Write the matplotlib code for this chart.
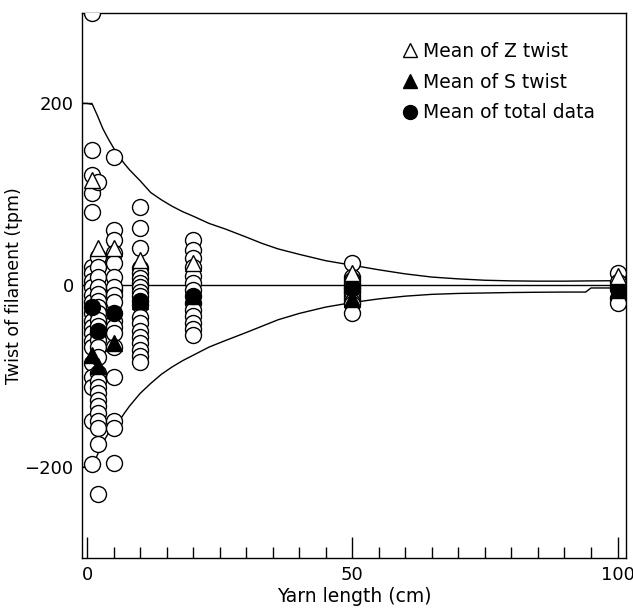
import matplotlib
matplotlib.use("Agg")
import matplotlib.pyplot as plt
from matplotlib.lines import Line2D
import numpy as np

plt.rcParams['font.family'] = ['DejaVu Sans']

# ---- data ----
lengths = [1, 2, 5, 10, 20, 50, 100]

twist_1 = [300, 149, 121, 101, 81, 20, 13, 5, -2, -11, -18, -31, -39, -46, -53,
           -61, -68, -86, -101, -112, -149, -197]
twist_2 = [114, 31, 20, 9, -2, -10, -17, -24, -31, -38, -45, -52, -60, -68, -79,
           -96, -105, -112, -119, -126, -133, -140, -149, -157, -175, -230]
twist_5 = [141, 61, 50, 35, 24, 9, -5, -2, -11, -18, -39, -46, -53, -68, -101,
           -149, -157, -195]
twist_10 = [86, 63, 41, 19, 13, 8, 3, -2, -7, -12, -22, -35, -42, -50, -57,
            -64, -71, -78, -84]
twist_20 = [50, 39, 30, 20, 10, 2, -5, -20, -27, -34, -41, -48, -55]
twist_50 = [25, 9, 6, 3, 0, -3, -6, -9, -12, -15, -18, -21, -30]
twist_100 = [14, 4, -1, -14, -20]
twist_all = [twist_1, twist_2, twist_5, twist_10, twist_20, twist_50, twist_100]

z_mean = [116, 41, 41, 28, 25, 14, 10]
s_mean = [-77, -89, -63, -17, -12, -15, -5]
total_mean = [-24, -50, -31, -17, -12, -3, -4]

# envelope curves
upper_x = [-1, 0, 1, 2, 3, 4, 5, 6, 7, 8, 10, 12, 14, 16, 18, 20, 23, 26, 30,
           33, 36, 40, 45, 50, 55, 60, 65, 70, 75, 80, 85, 90, 95, 100]
upper_y = [200, 200, 199, 186, 172, 161, 151, 142, 134, 127, 115, 102, 94, 87,
           81, 76, 68, 62, 53, 46, 40, 34, 27, 22, 17, 12.5, 9, 7, 5.5, 4.8,
           4.5, 4.5, 4.8, 5]
lower_x = [-1, 0, 1, 2, 3, 4, 5, 6, 7, 8, 10, 12, 14, 16, 18, 20, 23, 26, 30,
           33, 36, 40, 45, 50, 55, 60, 65, 70, 75, 80, 85, 90, 94, 95, 100]
lower_y = [-200, -200, -199, -186, -173, -163, -156, -150, -141, -133, -119,
           -108, -98, -90, -83, -77, -68, -61, -52, -45, -38, -31, -24, -19,
           -15, -12, -10, -9, -8.5, -8, -7.7, -7.5, -7.5, -3, -3]
zero_x = [-1, 100]
zero_y = [0, 0]

x_ticks = [0, 50, 100]
y_ticks = [-200, 0, 200]
y_ticklabels = ['\u2212200', '0', '200']

# ---- figure ----
fig = plt.figure(figsize=(6.33, 6.11), dpi=100)
ax = fig.add_axes([82 / 633, 53 / 611, (626 - 82) / 633, (558 - 12.5) / 611])

ax.plot(upper_x, upper_y, color='black', lw=1.0, zorder=1)
ax.plot(lower_x, lower_y, color='black', lw=1.0, zorder=1)
ax.plot(zero_x, zero_y, color='black', lw=1.0, zorder=1)

ms = 11.5
for L, vals in zip(lengths, twist_all):
    ax.plot([L] * len(vals), vals, linestyle='none', marker='o', ms=ms,
            mfc='white', mec='black', mew=1.0, zorder=3)

ax.plot(lengths, s_mean, linestyle='none', marker='^', ms=ms, mfc='black',
        mec='black', mew=1.0, zorder=4)
ax.plot(lengths, total_mean, linestyle='none', marker='o', ms=ms, mfc='black',
        mec='black', mew=1.0, zorder=5)
ax.plot(lengths, z_mean, linestyle='none', marker='^', ms=ms, mfc='white',
        mec='black', mew=1.0, zorder=6)

ax.set_xlim(-0.95, 101.6)
ax.set_ylim(-300, 300)
ax.set_xticks(x_ticks)
ax.set_xticks(np.arange(0, 101, 5), minor=True)
ax.set_yticks(y_ticks)
ax.set_yticklabels(y_ticklabels)
ax.tick_params(axis='x', which='major', direction='in', length=15, width=1,
               labelsize=13, pad=6)
ax.tick_params(axis='x', which='minor', direction='in', length=8, width=1)
ax.tick_params(axis='y', which='major', direction='in', length=7, width=1,
               labelsize=13, pad=6)
for s in ax.spines.values():
    s.set_linewidth(1.0)

ax.set_xlabel('Yarn length (cm)', fontsize=13.5, labelpad=2)
ax.set_ylabel('Twist of filament (tpm)', fontsize=12.5)
ax.yaxis.set_label_coords(-0.108, 0.5)

handles = [
    Line2D([], [], linestyle='none', marker='^', ms=10, mfc='white', mec='black', mew=1.0),
    Line2D([], [], linestyle='none', marker='^', ms=10, mfc='black', mec='black', mew=1.0),
    Line2D([], [], linestyle='none', marker='o', ms=10, mfc='black', mec='black', mew=1.0),
]
labels = ['Mean of Z twist', 'Mean of S twist', 'Mean of total data']
ax.legend(handles, labels, loc='upper left', bbox_to_anchor=(0.575, 0.96),
          frameon=False, fontsize=13.5, handlelength=0.8, handletextpad=0.3,
          labelspacing=0.63, borderaxespad=0)

fig.savefig('out.png', dpi=100)
